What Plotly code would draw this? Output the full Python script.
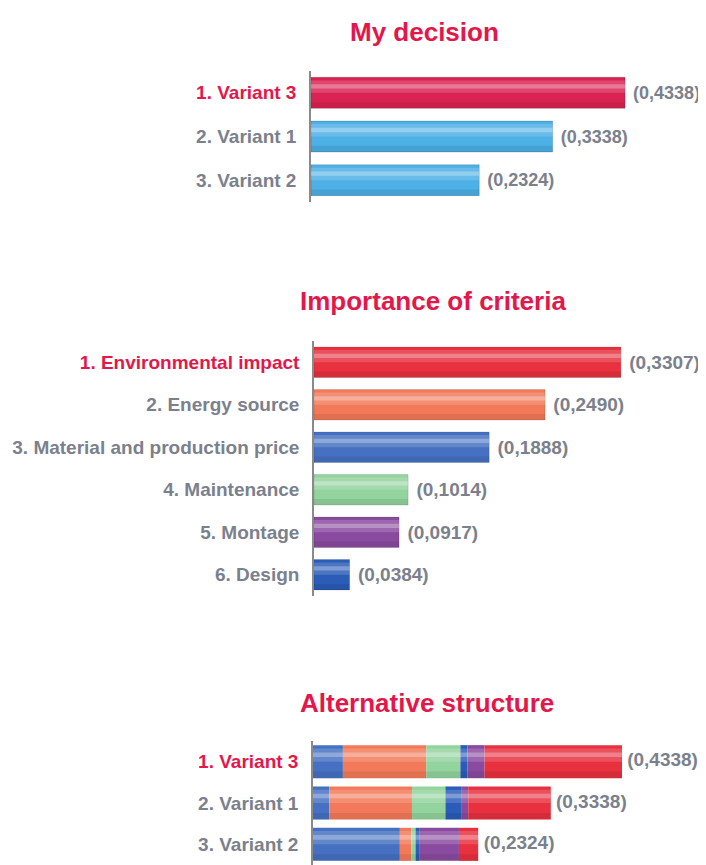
import plotly.graph_objects as go

# ---------------- data ----------------
decision_labels = ["1. Variant 3", "2. Variant 1", "3. Variant 2"]
decision_values = [0.4338, 0.3338, 0.2324]

criteria_labels = ["1. Environmental impact", "2. Energy source", "3. Material and production price",
                   "4. Maintenance", "5. Montage", "6. Design"]
criteria_values = [0.3307, 0.2490, 0.1888, 0.1014, 0.0917, 0.0384]

# structure: contribution of each criterion to each variant (stack order left -> right)
structure_labels = ["1. Variant 3", "2. Variant 1", "3. Variant 2"]
structure_totals = [0.4338, 0.3338, 0.2324]
structure_order = ["Material and production price", "Energy source", "Maintenance",
                   "Design", "Montage", "Environmental impact"]
seg_material = [0.042, 0.023, 0.122]
seg_energy = [0.117, 0.116, 0.016]
seg_maint = [0.048, 0.047, 0.006]
seg_design = [0.010, 0.022, 0.006]
seg_montage = [0.024, 0.010, 0.055]
seg_env = [0.193, 0.116, 0.027]

# ---------------- styles ----------------
RED_T = "#e3174a"
GRAY = "#7b808d"
FONT = "Liberation Sans, Arial, sans-serif"

W, H = 698, 857      # page body has an 8px margin in the browser
OFF = 8

def px(x):
    return (x - OFF) / W

def py(y):
    return 1 - (y - OFF) / H

decision_colors = ["#da2352", "#4db0e6", "#4db0e6"]
crit_colors = {"Environmental impact": "#e8303e", "Energy source": "#f27a5a",
               "Material and production price": "#4670c2", "Maintenance": "#93d39e",
               "Montage": "#8a4a9f", "Design": "#2a5cb8"}
criteria_colors = [crit_colors[k] for k in ["Environmental impact", "Energy source",
                   "Material and production price", "Maintenance", "Montage", "Design"]]

def fmt(v):
    return "(" + f"{v:.4f}".replace(".", ",") + ")"

def tick_html(labels):
    out = []
    for i, l in enumerate(labels):
        c = RED_T if i == 0 else GRAY
        out.append(f"<span style='color:{c}'><b>{l}</b></span>")
    return out

fig = go.Figure()

def gloss(xs, ys, xa, ya, width, base=None):
    # soft highlight bands
    fig.add_trace(go.Bar(x=xs, y=ys, base=base, orientation="h", width=width * 0.40,
                         offset=-width * 0.40, marker=dict(color="rgba(255,255,255,0.16)", line_width=0),
                         xaxis=xa, yaxis=ya, hoverinfo="skip", showlegend=False))
    fig.add_trace(go.Bar(x=xs, y=ys, base=base, orientation="h", width=width * 0.14,
                         offset=-width * 0.28, marker=dict(color="rgba(255,255,255,0.28)", line_width=0),
                         xaxis=xa, yaxis=ya, hoverinfo="skip", showlegend=False))
    # darker bottom band
    fig.add_trace(go.Bar(x=xs, y=ys, base=base, orientation="h", width=width * 0.2,
                         offset=width * 0.30, marker=dict(color="rgba(0,0,0,0.08)", line_width=0),
                         xaxis=xa, yaxis=ya, hoverinfo="skip", showlegend=False))

# ---- panel 1: My decision ----
fig.add_trace(go.Bar(x=decision_values, y=decision_labels, orientation="h", width=0.71,
                     marker=dict(color=decision_colors, line=dict(color="rgba(0,0,0,0.15)", width=1)),
                     text=[" " + fmt(v) for v in decision_values], textposition="outside",
                     textfont=dict(family=FONT, size=18, color=GRAY, weight="bold"),
                     cliponaxis=False, xaxis="x", yaxis="y", showlegend=False))
gloss(decision_values, decision_labels, "x", "y", 0.71)

# ---- panel 2: Importance of criteria ----
fig.add_trace(go.Bar(x=criteria_values, y=criteria_labels, orientation="h", width=0.72,
                     marker=dict(color=criteria_colors, line=dict(color="rgba(0,0,0,0.12)", width=1)),
                     text=[" " + fmt(v) for v in criteria_values], textposition="outside",
                     textfont=dict(family=FONT, size=19, color=GRAY, weight="bold"),
                     cliponaxis=False, xaxis="x2", yaxis="y2", showlegend=False))
gloss(criteria_values, criteria_labels, "x2", "y2", 0.72)

# ---- panel 3: Alternative structure ----
segments = [seg_material, seg_energy, seg_maint, seg_design, seg_montage, seg_env]
bases = [0.0, 0.0, 0.0]
for name, seg in zip(structure_order, segments):
    fig.add_trace(go.Bar(x=seg, y=structure_labels, base=list(bases), orientation="h", width=0.8,
                         marker=dict(color=crit_colors[name], line_width=0),
                         name=name, xaxis="x3", yaxis="y3", showlegend=False))
    bases = [b + s for b, s in zip(bases, seg)]
gloss(structure_totals, structure_labels, "x3", "y3", 0.8, base=[0, 0, 0])
fig.add_trace(go.Scatter(x=structure_totals, y=structure_labels, mode="text",
                         text=[" " + fmt(v) for v in structure_totals], textposition="middle right",
                         textfont=dict(family=FONT, size=19, color=GRAY, weight="bold"),
                         cliponaxis=False, xaxis="x3", yaxis="y3", showlegend=False, hoverinfo="skip"))

def xax(start, rng):
    return dict(domain=[start, 1.0], range=rng, visible=False, fixedrange=True)

def yax(dom, labels, xanchor, size):
    n = len(labels)
    return dict(domain=dom, type="category", categoryarray=labels, range=[n - 0.5, -0.5],
                tickmode="array", tickvals=labels, ticktext=tick_html(labels),
                tickfont=dict(family=FONT, size=size, color=GRAY),
                showline=True, linecolor="#8a8a8a", linewidth=1.5, ticks="", showgrid=False,
                zeroline=False, anchor=xanchor, ticklabelstandoff=9, fixedrange=True)

def title(txt, xc, yc):
    return dict(text=f"<b>{txt}</b>", x=px(xc), y=py(yc), xref="paper", yref="paper",
                xanchor="center", yanchor="middle", showarrow=False,
                font=dict(family=FONT, size=26, color=RED_T))

fig.update_layout(
    width=W, height=H, margin=dict(l=0, r=0, t=0, b=0),
    paper_bgcolor="white", plot_bgcolor="rgba(0,0,0,0)", barmode="overlay",
    xaxis=xax(px(311), [0, 395 / 724]),
    yaxis=yax([py(202), py(71)], decision_labels, "x", 19),
    xaxis2=xax(px(314), [0, 392 / 928]),
    yaxis2=yax([py(596), py(341)], criteria_labels, "x2", 19),
    xaxis3=xax(px(313), [0, 393 / 712]),
    yaxis3=yax([0.0, py(741)], structure_labels, "x3", 19),
    annotations=[
        title("My decision", 424, 32),
        title("Importance of criteria", 433, 301),
        title("Alternative structure", 427, 703),
    ],
)

fig.write_html("out.html")
